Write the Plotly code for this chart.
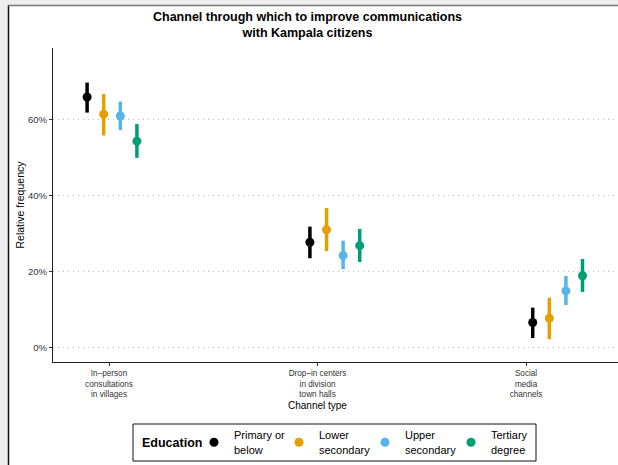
import plotly.graph_objects as go

categories = ["In\u2013person<br>consultations<br>in villages",
              "Drop\u2013in centers<br>in division<br>town halls",
              "Social<br>media<br>channels"]
education = ["Primary or<br>below", "Lower<br>secondary", "Upper<br>secondary", "Tertiary<br>degree"]
colors = ["#000000", "#E69F00", "#56B4E9", "#009E73"]

# estimates per education level, per channel
est = {
    "Primary or<br>below": [0.660, 0.278, 0.067],
    "Lower<br>secondary": [0.615, 0.311, 0.078],
    "Upper<br>secondary": [0.610, 0.243, 0.150],
    "Tertiary<br>degree": [0.544, 0.269, 0.190],
}
upper = {
    "Primary or<br>below": [0.698, 0.319, 0.106],
    "Lower<br>secondary": [0.668, 0.368, 0.132],
    "Upper<br>secondary": [0.648, 0.282, 0.189],
    "Tertiary<br>degree": [0.589, 0.313, 0.234],
}
lower = {
    "Primary or<br>below": [0.619, 0.236, 0.026],
    "Lower<br>secondary": [0.559, 0.255, 0.023],
    "Upper<br>secondary": [0.573, 0.207, 0.113],
    "Tertiary<br>degree": [0.500, 0.226, 0.147],
}
ytick_vals = [0, 0.2, 0.4, 0.6]

W, H = 618, 465
L, R, T, B = 53, 0, 48, 103
pw = W - L - R
ph = H - T - B

def px_x(p):
    return (p - L) / pw

def px_y(p):
    return (H - B - p) / ph

dodge = 0.0745
legend_left_px = [194, 279, 365, 451]
legend_names = ["legend", "legend2", "legend3", "legend4"]

fig = go.Figure()
for k, ed in enumerate(education):
    off = (k - 1.5) * dodge
    xs = [i + off for i in range(len(categories))]
    y = est[ed]
    fig.add_trace(go.Scatter(
        x=xs, y=y, xaxis="x2", yaxis="y", mode="markers", name=ed,
        legend=legend_names[k],
        marker=dict(color=colors[k], size=9),
        error_y=dict(type="data", symmetric=False,
                     array=[u - v for u, v in zip(upper[ed], y)],
                     arrayminus=[v - l for v, l in zip(y, lower[ed])],
                     color=colors[k], thickness=3.5, width=0),
    ))

shapes = [
    # gray surround (image viewer background)
    dict(type="rect", xref="paper", yref="paper", x0=px_x(0), x1=px_x(8), y0=px_y(H), y1=px_y(0),
         fillcolor="#eeeeee", line=dict(width=0), layer="below"),
    dict(type="rect", xref="paper", yref="paper", x0=px_x(0), x1=px_x(W), y0=px_y(5), y1=px_y(0),
         fillcolor="#eeeeee", line=dict(width=0), layer="below"),
    dict(type="line", xref="paper", yref="paper", x0=px_x(8.5), x1=px_x(W), y0=px_y(5.5), y1=px_y(5.5),
         line=dict(color="#777777", width=1.5)),
    dict(type="line", xref="paper", yref="paper", x0=px_x(8.5), x1=px_x(8.5), y0=px_y(H), y1=px_y(5.5),
         line=dict(color="#111111", width=1.5)),
    # legend box
    dict(type="rect", xref="paper", yref="paper", x0=px_x(133), x1=px_x(536), y0=px_y(461), y1=px_y(424),
         fillcolor="rgba(0,0,0,0)", line=dict(color="#111111", width=1)),
]

annotations = [
    dict(text="<b>Channel through which to improve communications<br>with Kampala citizens</b>",
         xref="paper", yref="paper", x=px_x(307.5), y=px_y(8), xanchor="center", yanchor="top",
         showarrow=False, font=dict(size=12.5, color="black"), align="center"),
    dict(text="Channel type", xref="x", yref="paper", x=1, y=px_y(405), xanchor="center",
         yanchor="middle", showarrow=False, font=dict(size=10, color="black")),
    dict(text="<b>Education</b>", xref="paper", yref="paper", x=px_x(140), y=px_y(442.5),
         xanchor="left", yanchor="middle", showarrow=False, font=dict(size=12.5, color="black")),
]

legend_common = dict(orientation="h", yanchor="middle", y=px_y(442.5), xanchor="left",
                     borderwidth=0, bgcolor="rgba(0,0,0,0)", font=dict(size=11),
                     itemwidth=30, tracegroupgap=0)
legends = {name: dict(legend_common, x=px_x(lx)) for name, lx in zip(legend_names, legend_left_px)}

fig.update_layout(
    width=W, height=H,
    margin=dict(l=L, r=R, t=T, b=B, pad=0),
    paper_bgcolor="white", plot_bgcolor="rgba(0,0,0,0)",
    font=dict(family="Liberation Sans, Arial, sans-serif", color="black"),
    showlegend=True,
    xaxis=dict(range=[-0.2686, 2.441], tickvals=list(range(len(categories))), ticktext=categories,
               showline=True, linecolor="#222222", linewidth=1.2, ticks="outside", ticklen=3,
               tickcolor="#333333", tickfont=dict(size=8.2, color="#333333"), showgrid=False,
               zeroline=False, fixedrange=True),
    xaxis2=dict(range=[-0.2648, 2.271], overlaying="x", visible=False, showgrid=False, zeroline=False),
    yaxis=dict(range=[-0.037, 0.789], tickvals=ytick_vals, tickformat=".0%",
               showline=True, linecolor="#222222", linewidth=1.2, ticks="outside", ticklen=3,
               tickcolor="#333333", tickfont=dict(size=9.5, color="#333333"),
               showgrid=True, gridcolor="#bbbbbb", griddash="1px,4px", gridwidth=1, zeroline=False,
               title=dict(text="Relative frequency", font=dict(size=10.5, color="black"), standoff=1)),
    shapes=shapes,
    annotations=annotations,
    **legends,
)

fig.write_html("out.html", config={"displayModeBar": False},
               post_script="document.body.style.margin='0';document.body.style.padding='0';")
